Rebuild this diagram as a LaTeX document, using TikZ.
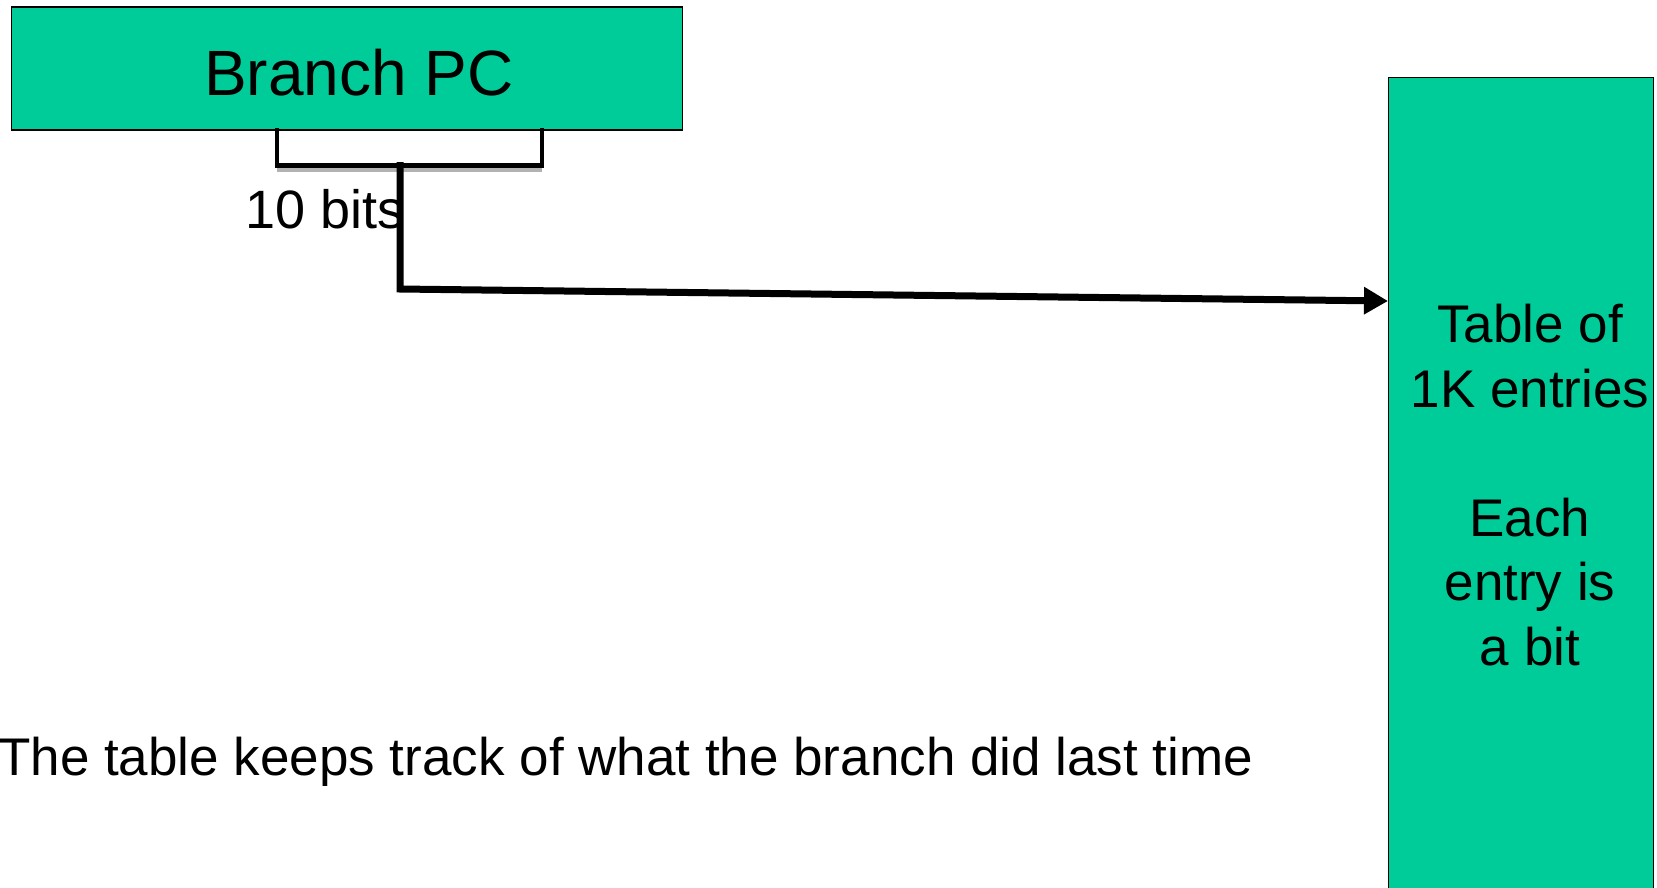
\documentclass[tikz,border=0pt]{standalone}
\usepackage{fontspec}
\setmainfont{Liberation Sans}
\usetikzlibrary{arrows.meta}
\definecolor{tblgreen}{HTML}{00CC99}

\begin{document}
\begin{tikzpicture}[x=1pt,y=-1pt,
    box/.style={draw,fill=tblgreen,line width=1.2pt,inner sep=0pt},
    big/.style={font=\fontsize{64}{77}\selectfont,inner sep=0pt},
    txt/.style={font=\fontsize{53}{64.5}\selectfont,inner sep=0pt},
    bracket/.style={line width=4.5pt},
    wire/.style={line width=7pt,-{Triangle[length=24pt,width=26pt]}}]
    \clip (0,0) rectangle (1657,887);
    % boxes
    \node[box,minimum width=671pt,minimum height=123pt] (pc) at (347,68.5) {};
    \node[box,minimum width=265pt,minimum height=900pt,anchor=north west] (tbl) at (1388,77) {};
    % texts
    \node[big] (pctxt) at (359,72.5) {Branch PC};
    \node[txt,align=center,anchor=north] (tbltxt) at (1530,304) {Table of\\1K entries\\[64.5pt]Each\\entry is\\a bit};
    \node[txt,anchor=base west,font=\fontsize{54}{65}\selectfont] (bits) at (245,228) {10 bits};
    \node[txt,anchor=base west] (note) at (-2,775) {The table keeps track of what the branch did last time};
    % bracket under the pc bits
    \coordinate (bl) at (277,128);
    \coordinate (br) at (542,128);
    \draw[gray!60,line width=4pt] (277,169.7) -- (542,169.7);
    \draw[bracket] (bl) -- (277,165.5) -- (542,165.5) -- (br);
    % index into the table
    \coordinate (tap) at (400,162);
    \coordinate (bend) at (400,289);
    \coordinate (tblin) at ([yshift=-224pt]tbl.north west);
    \draw[wire] (tap) -- (bend) -- (tblin);
\end{tikzpicture}
\end{document}
